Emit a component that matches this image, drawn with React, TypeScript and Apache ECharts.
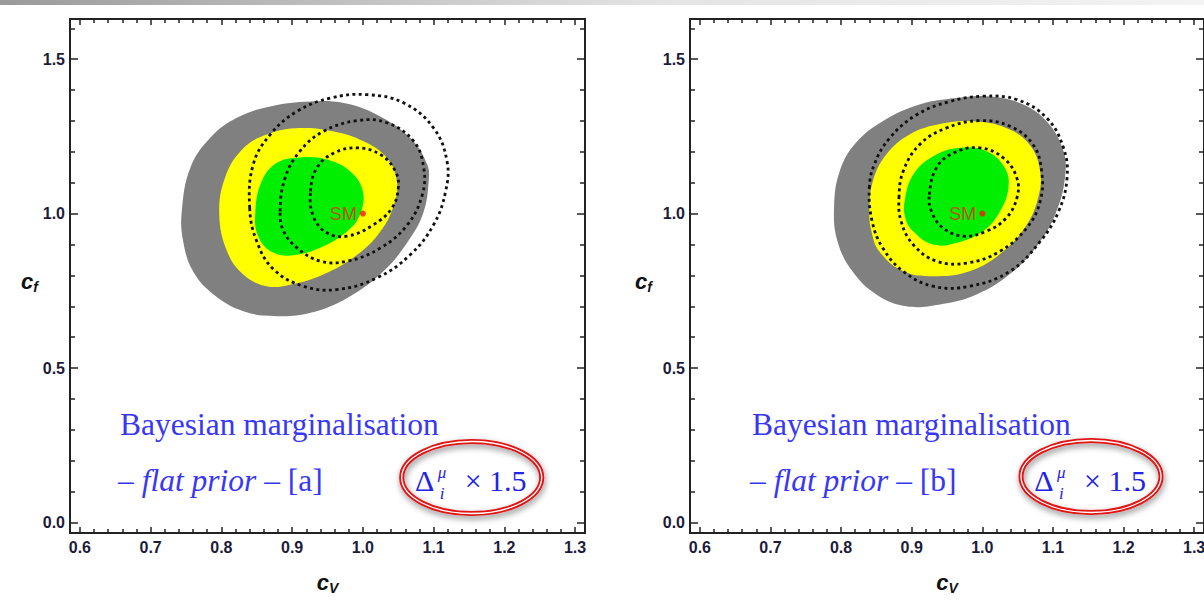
import React, { useEffect, useRef } from 'react';
import * as echarts from 'echarts';

// ---------- axis data ----------
const X_MIN = 0.586;
const X_MAX = 1.314;
const Y_MIN = -0.034;
const Y_MAX = 1.63;
const X_MAJOR = [0.6, 0.7, 0.8, 0.9, 1.0, 1.1, 1.2, 1.3];
const X_MINOR = [0.62, 0.64, 0.66, 0.68, 0.72, 0.74, 0.76, 0.78, 0.82, 0.84, 0.86, 0.88, 0.92, 0.94, 0.96, 0.98,
  1.02, 1.04, 1.06, 1.08, 1.12, 1.14, 1.16, 1.18, 1.22, 1.24, 1.26, 1.28];
const Y_MAJOR = [0.0, 0.5, 1.0, 1.5];
const Y_MINOR = [0.1, 0.2, 0.3, 0.4, 0.6, 0.7, 0.8, 0.9, 1.1, 1.2, 1.3, 1.4, 1.6];
const PANEL_TAGS = ['[a]', '[b]'];
const SM_POINT = [1.0, 1.0];

// ---------- panel [a] contours (cV, cf) ----------
const grayA = [[0.744, 1.007], [0.756, 1.148], [0.784, 1.245], [0.822, 1.310], [0.869, 1.347], [0.926, 1.363], [0.973, 1.358],
  [1.020, 1.320], [1.067, 1.245], [1.091, 1.159], [1.093, 1.105], [1.086, 1.007], [1.067, 0.921], [1.029, 0.813], [0.978, 0.727],
  [0.926, 0.679], [0.878, 0.668], [0.831, 0.684], [0.789, 0.738], [0.760, 0.813], [0.746, 0.910]];
const yellowA = [[0.797, 0.997], [0.805, 1.115], [0.829, 1.207], [0.864, 1.256], [0.911, 1.277], [0.959, 1.266], [1.001, 1.234],
  [1.034, 1.180], [1.048, 1.105], [1.044, 1.029], [1.025, 0.943], [0.992, 0.867], [0.944, 0.803], [0.897, 0.770], [0.864, 0.765],
  [0.831, 0.803], [0.808, 0.878]];
const greenA = [[0.848, 1.007], [0.857, 1.105], [0.878, 1.164], [0.911, 1.182], [0.949, 1.175], [0.982, 1.137], [1.000, 1.072],
  [0.996, 0.997], [0.978, 0.943], [0.944, 0.894], [0.907, 0.867], [0.874, 0.873], [0.852, 0.927]];
const dotInnerA = [[0.926, 1.072], [0.935, 1.148], [0.959, 1.196], [0.992, 1.213], [1.025, 1.191], [1.046, 1.137], [1.050, 1.083],
  [1.041, 1.018], [1.015, 0.964], [0.978, 0.927], [0.949, 0.938], [0.930, 0.991]];
const dotMidA = [[0.883, 1.007], [0.890, 1.115], [0.911, 1.202], [0.944, 1.266], [0.992, 1.301], [1.034, 1.294], [1.072, 1.234],
  [1.086, 1.148], [1.084, 1.061], [1.063, 0.964], [1.025, 0.889], [0.978, 0.846], [0.940, 0.846], [0.907, 0.889], [0.888, 0.943]];
const dotOuterA = [[0.840, 1.018], [0.845, 1.159], [0.869, 1.256], [0.907, 1.331], [0.954, 1.374], [1.006, 1.385], [1.058, 1.358],
  [1.100, 1.277], [1.119, 1.169], [1.117, 1.072], [1.100, 0.964], [1.067, 0.867], [1.020, 0.792], [0.963, 0.754], [0.916, 0.765],
  [0.874, 0.819], [0.850, 0.910]];

// ---------- panel [b] contours ----------
const grayB = [[0.790, 1.018], [0.798, 1.137], [0.821, 1.229], [0.859, 1.299], [0.911, 1.353], [0.963, 1.374], [1.006, 1.380],
  [1.053, 1.358], [1.091, 1.299], [1.115, 1.202], [1.117, 1.115], [1.105, 1.007], [1.082, 0.910], [1.044, 0.813], [0.992, 0.738],
  [0.940, 0.706], [0.892, 0.700], [0.850, 0.738], [0.816, 0.813], [0.795, 0.910]];
const yellowB = [[0.840, 1.007], [0.845, 1.105], [0.864, 1.191], [0.897, 1.256], [0.940, 1.290], [0.987, 1.299], [1.034, 1.277],
  [1.067, 1.223], [1.082, 1.137], [1.079, 1.051], [1.063, 0.964], [1.030, 0.878], [0.982, 0.813], [0.930, 0.797], [0.888, 0.813],
  [0.854, 0.878], [0.843, 0.943]];
const greenB = [[0.890, 1.040], [0.902, 1.126], [0.930, 1.185], [0.968, 1.213], [1.006, 1.202], [1.032, 1.148], [1.037, 1.083],
  [1.025, 1.007], [1.001, 0.943], [0.963, 0.905], [0.930, 0.900], [0.902, 0.943], [0.891, 0.986]];
const dotInnerB = [[0.925, 1.061], [0.935, 1.148], [0.959, 1.196], [0.996, 1.213], [1.030, 1.180], [1.049, 1.115], [1.049, 1.051],
  [1.034, 0.986], [1.006, 0.943], [0.973, 0.927], [0.944, 0.954], [0.928, 1.007]];
const dotMidB = [[0.882, 1.051], [0.888, 1.137], [0.911, 1.223], [0.949, 1.277], [0.996, 1.301], [1.039, 1.283], [1.072, 1.223],
  [1.084, 1.137], [1.082, 1.040], [1.063, 0.954], [1.025, 0.878], [0.978, 0.840], [0.935, 0.846], [0.902, 0.900], [0.885, 0.975]];
const dotOuterB = [[0.840, 1.083], [0.847, 1.159], [0.869, 1.245], [0.907, 1.320], [0.954, 1.363], [1.001, 1.380], [1.049, 1.369],
  [1.091, 1.310], [1.115, 1.213], [1.120, 1.115], [1.108, 1.007], [1.082, 0.910], [1.039, 0.813], [0.982, 0.765], [0.930, 0.765],
  [0.888, 0.813], [0.859, 0.889], [0.844, 0.975]];

const PANELS = [
  { gray: grayA, yellow: yellowA, green: greenA, dots: [dotOuterA, dotMidA, dotInnerA] },
  { gray: grayB, yellow: yellowB, green: greenB, dots: [dotOuterB, dotMidB, dotInnerB] },
];

// ---------- layout / style ----------
const GRIDS = [
  { left: 70, top: 19, width: 515, height: 514, textX: 120, ellX: 471.7, ellY: 477.5, nameGapY: 19 },
  { left: 690, top: 19, width: 514, height: 514, textX: 752, ellX: 1091, ellY: 476.5, nameGapY: 38 },
];
const FRAME = '#222222';
const LABEL_FONT = { fontFamily: 'Liberation Sans', fontWeight: 'bold' as const, fontSize: 16, color: '#1c1c38' };
const BLUE = '#3838f4';
const DBLUE = '#2222ea';
const SERIF = '"Liberation Serif", "DejaVu Serif", serif';

const nameRich = {
  c: { fontFamily: 'Liberation Sans', fontWeight: 'bold', fontStyle: 'italic', fontSize: 22, color: '#111', verticalAlign: 'top', lineHeight: 24 },
  s: { fontFamily: 'Liberation Sans', fontWeight: 'bold', fontStyle: 'italic', fontSize: 14, color: '#111', verticalAlign: 'bottom' },
};

function tick(vals: number[], len: number) {
  return { show: true, inside: true, length: len, customValues: vals, lineStyle: { color: FRAME, width: 1.5 } };
}

function makeXAxes(gi: number) {
  const base = { type: 'value', gridIndex: gi, min: X_MIN, max: X_MAX, splitLine: { show: false } };
  const line = { show: true, onZero: false, lineStyle: { color: FRAME, width: 2 } };
  const noLine = { show: false, onZero: false };
  return [
    {
      ...base, position: 'bottom', axisLine: line, axisTick: tick(X_MAJOR, 6),
      axisLabel: { show: true, customValues: X_MAJOR, formatter: (v: number) => v.toFixed(1), margin: 6, ...LABEL_FONT },
      name: '{c|c}{s|V}', nameLocation: 'middle', nameGap: 38, nameTextStyle: { rich: nameRich },
    },
    { ...base, position: 'bottom', axisLine: noLine, axisTick: tick(X_MINOR, 4), axisLabel: { show: false } },
    { ...base, position: 'top', axisLine: line, axisTick: tick(X_MAJOR, 6), axisLabel: { show: false } },
    { ...base, position: 'top', axisLine: noLine, axisTick: tick(X_MINOR, 4), axisLabel: { show: false } },
  ];
}

function makeYAxes(gi: number) {
  const base = { type: 'value', gridIndex: gi, min: Y_MIN, max: Y_MAX, splitLine: { show: false } };
  const line = { show: true, onZero: false, lineStyle: { color: FRAME, width: 2 } };
  const noLine = { show: false, onZero: false };
  return [
    {
      ...base, position: 'left', axisLine: line, axisTick: tick(Y_MAJOR, 8),
      axisLabel: { show: true, customValues: Y_MAJOR, formatter: (v: number) => v.toFixed(1), margin: 5, ...LABEL_FONT },
      name: '{c|c}{s|f}', nameLocation: 'middle', nameRotate: 0, nameGap: GRIDS[gi].nameGapY,
      nameTextStyle: { rich: nameRich, padding: [12, 0, 0, 0] },
    },
    { ...base, position: 'left', axisLine: noLine, axisTick: tick(Y_MINOR, 5), axisLabel: { show: false } },
    { ...base, position: 'right', axisLine: line, axisTick: tick(Y_MAJOR, 8), axisLabel: { show: false } },
    { ...base, position: 'right', axisLine: noLine, axisTick: tick(Y_MINOR, 5), axisLabel: { show: false } },
  ];
}

function regionSeries(pts: number[][], gi: number, z: number, style: any) {
  return {
    type: 'custom',
    coordinateSystem: 'cartesian2d',
    xAxisIndex: gi * 4,
    yAxisIndex: gi * 4,
    z,
    silent: true,
    data: [pts[0]],
    renderItem: (_params: any, api: any) => ({
      type: 'polygon',
      shape: { points: pts.map((p) => api.coord(p)), smooth: 0.4 },
      style,
    }),
  };
}

function buildOption() {
  const series: any[] = [];
  PANELS.forEach((p, gi) => {
    series.push(regionSeries(p.gray, gi, 1, { fill: '#808080', stroke: 'none' }));
    series.push(regionSeries(p.yellow, gi, 2, { fill: '#ffff00', stroke: 'none' }));
    series.push(regionSeries(p.green, gi, 3, { fill: '#00ef00', stroke: 'none' }));
    p.dots.forEach((d) => {
      series.push(regionSeries(d, gi, 4, { fill: 'none', stroke: '#111111', lineWidth: 2.8, lineDash: [3, 3.4] }));
    });
    series.push({
      type: 'scatter',
      xAxisIndex: gi * 4,
      yAxisIndex: gi * 4,
      z: 6,
      data: [SM_POINT],
      symbol: 'circle',
      symbolSize: 6,
      itemStyle: { color: '#ff1010' },
      label: { show: true, formatter: 'SM', position: 'left', distance: 3, color: '#e8281e', fontSize: 18, fontFamily: 'Liberation Sans' },
    });
  });

  const graphic: any[] = [
    {
      type: 'rect',
      shape: { x: 0, y: 0, width: 1204, height: 5 },
      style: {
        fill: {
          type: 'linear', x: 0, y: 0, x2: 1, y2: 0,
          colorStops: [{ offset: 0, color: '#9a9a9a' }, { offset: 0.55, color: '#e4e4e4' }, { offset: 1, color: '#f3f3f3' }],
        },
      },
      silent: true,
    },
  ];
  GRIDS.forEach((g, gi) => {
    graphic.push({
      type: 'text', x: g.textX, y: 424,
      style: { text: 'Bayesian marginalisation', font: `31.5px ${SERIF}`, fill: BLUE, verticalAlign: 'middle', align: 'left' },
    });
    graphic.push({
      type: 'text', x: g.textX - 2, y: 480,
      style: {
        text: `{n|– }{i|flat prior}{n| – ${PANEL_TAGS[gi]}}`,
        verticalAlign: 'middle', align: 'left',
        rich: {
          n: { fontFamily: SERIF, fontSize: 31.5, fill: BLUE },
          i: { fontFamily: SERIF, fontSize: 31.5, fontStyle: 'italic', fill: BLUE },
        },
      },
    });
    graphic.push({
      type: 'ellipse',
      shape: { cx: g.ellX, cy: g.ellY, rx: 70, ry: 36 },
      style: { fill: 'none', stroke: '#e01212', lineWidth: 5, shadowBlur: 6, shadowColor: 'rgba(0,0,0,0.45)', shadowOffsetX: 1, shadowOffsetY: 3 },
    });
    graphic.push({
      type: 'ellipse',
      shape: { cx: g.ellX, cy: g.ellY, rx: 70, ry: 36 },
      style: { fill: 'none', stroke: '#ffffff', lineWidth: 1.3 },
    });
    graphic.push({
      type: 'text', x: g.ellX - 56.7, y: 480,
      style: { text: 'Δ', font: `30px ${SERIF}`, fill: DBLUE, verticalAlign: 'middle', align: 'left' },
    });
    graphic.push({
      type: 'text', x: g.ellX - 34, y: 472.5,
      style: { text: 'μ', font: `italic 17px ${SERIF}`, fill: DBLUE, verticalAlign: 'middle', align: 'left' },
    });
    graphic.push({
      type: 'text', x: g.ellX - 32, y: 493,
      style: { text: 'i', font: `italic 17px ${SERIF}`, fill: DBLUE, verticalAlign: 'middle', align: 'left' },
    });
    graphic.push({
      type: 'text', x: g.ellX - 7, y: 480,
      style: { text: '× 1.5', font: `30px ${SERIF}`, fill: DBLUE, verticalAlign: 'middle', align: 'left' },
    });
  });

  return {
    animation: false,
    backgroundColor: '#ffffff',
    grid: GRIDS.map((g) => ({ left: g.left, top: g.top, width: g.width, height: g.height, containLabel: false, outerBoundsMode: 'none' })),
    xAxis: [...makeXAxes(0), ...makeXAxes(1)],
    yAxis: [...makeYAxes(0), ...makeYAxes(1)],
    series,
    graphic,
  };
}

export default function App() {
  const ref = useRef<HTMLDivElement>(null);
  useEffect(() => {
    if (!ref.current) return;
    const chart = echarts.init(ref.current, undefined, { renderer: 'svg' });
    chart.setOption(buildOption() as any);
    return () => chart.dispose();
  }, []);
  return <div ref={ref} style={{ position: 'fixed', left: 0, top: 0, width: 1204, height: 607, background: '#fff' }} />;
}
